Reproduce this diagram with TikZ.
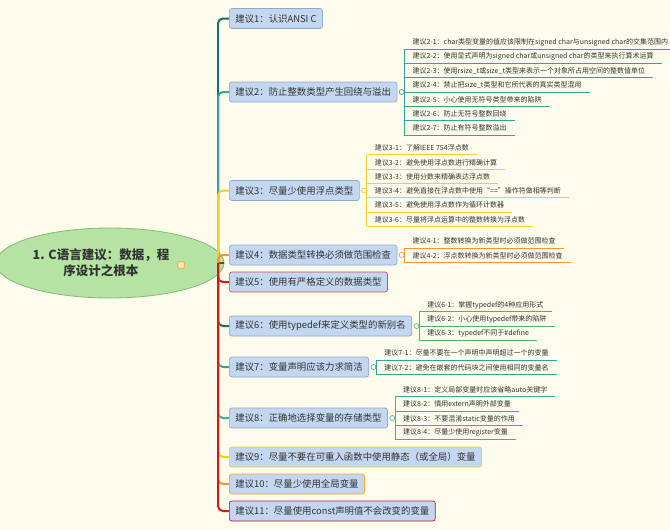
\documentclass[tikz,border=0pt]{standalone}
\usepackage{fontspec}
\setmainfont{Noto Sans CJK SC}
\usetikzlibrary{positioning,calc,shapes.geometric}
\definecolor{paper}{HTML}{FDFCEC}
\definecolor{ink}{HTML}{333333}
\definecolor{topicFill}{HTML}{C3D7F0}
\definecolor{topicLine}{HTML}{8FA9C9}
\definecolor{rootFill}{HTML}{B4E3A4}
\definecolor{rootLine}{HTML}{86B878}
\definecolor{brDarkTeal}{HTML}{17706B}
\definecolor{brTeal}{HTML}{2EA597}
\definecolor{brYellow}{HTML}{F2CF2A}
\definecolor{brOrange}{HTML}{F2962E}
\definecolor{brRed}{HTML}{D11A1A}
\definecolor{brGreen}{HTML}{55B45A}
\definecolor{brSea}{HTML}{3FAE9E}
\tikzset{
  rootnode/.style={ellipse, draw=rootLine, fill=rootFill, line width=.8pt,
    minimum width=205pt, minimum height=70pt, align=center, text=ink,
    font=\fontsize{12.5}{16}\selectfont\bfseries},
  noteicon/.style={draw=brOrange, fill=brYellow!35, rounded corners=1pt,
    minimum size=6.5pt, inner sep=0pt, line width=.7pt},
  topicbox/.style={draw=#1, fill=topicFill, rounded corners=2.5pt, line width=.7pt,
    anchor=west, minimum height=20pt, inner xsep=6pt, text=ink,
    font=\fontsize{9.4}{10}\selectfont},
  topicbox/.default=topicLine,
  branch/.style={draw=#1, line width=2pt, rounded corners=5pt},
  subtopic/.style={anchor=south west, inner xsep=8pt, inner ysep=0pt,
    minimum height=13pt, text=ink, font=\fontsize{7}{7.5}\selectfont},
  subline/.style={draw=#1, line width=.7pt},
  fold/.style={circle, draw=#1, fill=paper, line width=.6pt, minimum size=5pt, inner sep=0pt}
}
\begin{document}
\begin{tikzpicture}[x=1pt, y=-1pt]
  \fill[paper] (0,0) rectangle (670,530);
  \useasboundingbox (0,0) rectangle (670,530);

  \node[rootnode] (root) at (110,263) {1. C语言建议：数据，程\kern18pt\\序设计之根本\kern18pt};
  \node[noteicon] (note) at (181,265) {};
  \coordinate (hub) at (218,263);

  \node[topicbox] (b1) at (229,18.5) {建议1：认识ANSI C};
  \node[topicbox] (b2) at (229,92) {建议2：防止整数类型产生回绕与溢出};
  \node[topicbox] (b3) at (229,190.5) {建议3：尽量少使用浮点类型};
  \node[topicbox] (b4) at (229,255) {建议4：数据类型转换必须做范围检查};
  \node[topicbox=brRed!80] (b5) at (229,282) {建议5：使用有严格定义的数据类型};
  \node[topicbox] (b6) at (229,326) {建议6：使用typedef来定义类型的新别名};
  \node[topicbox] (b7) at (229,367) {建议7：变量声明应该力求简洁};
  \node[topicbox] (b8) at (229,418) {建议8：正确地选择变量的存储类型};
  \node[topicbox=brYellow] (b9) at (229,457) {建议9：尽量不要在可重入函数中使用静态（或全局）变量};
  \node[topicbox=brOrange!70!brYellow] (b10) at (229,484) {建议10：尽量少使用全局变量};
  \node[topicbox=brRed!70!violet] (b11) at (229,511) {建议11：尽量使用const声明值不会改变的变量};

  % later branches are drawn on top, so the trunk takes their colour
  \draw[branch=brRed] (root.east) -- (hub);
  \foreach \b/\c in {b1/brDarkTeal,b2/brTeal,b3/brYellow,b4/brOrange,b5/brRed,
      b6/brDarkTeal,b7/brTeal,b8/brSea,b9/brYellow,b10/brOrange,b11/brRed}
    \draw[branch=\c] (hub) |- (\b.west);

  \node[fold=brTeal, right=1.5pt of b2] (f2) {};
  \foreach \txt [count=\i] in {建议2-1：char类型变量的值应该限制在signed char与unsigned char的交集范围内,
      建议2-2：使用显式声明为signed char或unsigned char的类型来执行算术运算,
      建议2-3：使用rsize\_t或size\_t类型来表示一个对象所占用空间的整数值单位,
      建议2-4：禁止把size\_t类型和它所代表的真实类型混用,
      建议2-5：小心使用无符号类型带来的陷阱,
      建议2-6：防止无符号整数回绕,
      建议2-7：防止有符号整数溢出}{
    \node[subtopic] (s2-\i) at ($(b2.east)+(7,{14.3*(\i-4)})$) {\txt};
    \draw[subline=brTeal] (s2-\i.south west) -- (s2-\i.south east);
  }
  \draw[subline=brTeal] (s2-1.south west) -- (s2-7.south west);
  \draw[subline=brTeal] (f2.east) -- (f2.east -| s2-1.west);

  \node[fold=brYellow, right=1.5pt of b3] (f3) {};
  \foreach \txt [count=\i] in {建议3-1：了解IEEE 754浮点数,
      建议3-2：避免使用浮点数进行精确计算,
      建议3-3：使用分数来精确表达浮点数,
      建议3-4：避免直接在浮点数中使用“==”操作符做相等判断,
      建议3-5：避免使用浮点数作为循环计数器,
      建议3-6：尽量将浮点运算中的整数转换为浮点数}{
    \node[subtopic] (s3-\i) at ($(b3.east)+(7,{14.3*(\i-3.5)})$) {\txt};
    \draw[subline=brYellow] (s3-\i.south west) -- (s3-\i.south east);
  }
  \draw[subline=brYellow] (s3-1.south west) -- (s3-6.south west);
  \draw[subline=brYellow] (f3.east) -- (f3.east -| s3-1.west);

  \node[fold=brOrange, right=1.5pt of b4] (f4) {};
  \foreach \txt [count=\i] in {建议4-1：整数转换为新类型时必须做范围检查,
      建议4-2：浮点数转换为新类型时必须做范围检查}{
    \node[subtopic] (s4-\i) at ($(b4.east)+(7,{14.3*(\i-1.5)})$) {\txt};
    \draw[subline=brOrange] (s4-\i.south west) -- (s4-\i.south east);
  }
  \draw[subline=brOrange] (s4-1.south west) -- (s4-2.south west);
  \draw[subline=brOrange] (f4.east) -- (f4.east -| s4-1.west);

  \node[fold=brGreen, right=1.5pt of b6] (f6) {};
  \foreach \txt [count=\i] in {建议6-1：掌握typedef的4种应用形式,
      建议6-2：小心使用typedef带来的陷阱,
      建议6-3：typedef不同于\#define}{
    \node[subtopic] (s6-\i) at ($(b6.east)+(7,{14.3*(\i-2)})$) {\txt};
    \draw[subline=brGreen] (s6-\i.south west) -- (s6-\i.south east);
  }
  \draw[subline=brGreen] (s6-1.south west) -- (s6-3.south west);
  \draw[subline=brGreen] (f6.east) -- (f6.east -| s6-1.west);

  \node[fold=brTeal, right=1.5pt of b7] (f7) {};
  \foreach \txt [count=\i] in {建议7-1：尽量不要在一个声明中声明超过一个的变量,
      建议7-2：避免在嵌套的代码块之间使用相同的变量名}{
    \node[subtopic] (s7-\i) at ($(b7.east)+(7,{14.3*(\i-1.5)})$) {\txt};
    \draw[subline=brTeal] (s7-\i.south west) -- (s7-\i.south east);
  }
  \draw[subline=brTeal] (s7-1.south west) -- (s7-2.south west);
  \draw[subline=brTeal] (f7.east) -- (f7.east -| s7-1.west);

  \node[fold=brSea, right=1.5pt of b8] (f8) {};
  \foreach \txt [count=\i] in {建议8-1：定义局部变量时应该省略auto关键字,
      建议8-2：慎用extern声明外部变量,
      建议8-3：不要混淆static变量的作用,
      建议8-4：尽量少使用register变量}{
    \node[subtopic] (s8-\i) at ($(b8.east)+(7,{14.3*(\i-2.5)})$) {\txt};
    \draw[subline=brSea] (s8-\i.south west) -- (s8-\i.south east);
  }
  \draw[subline=brSea] (s8-1.south west) -- (s8-4.south west);
  \draw[subline=brSea] (f8.east) -- (f8.east -| s8-1.west);
\end{tikzpicture}
\end{document}
